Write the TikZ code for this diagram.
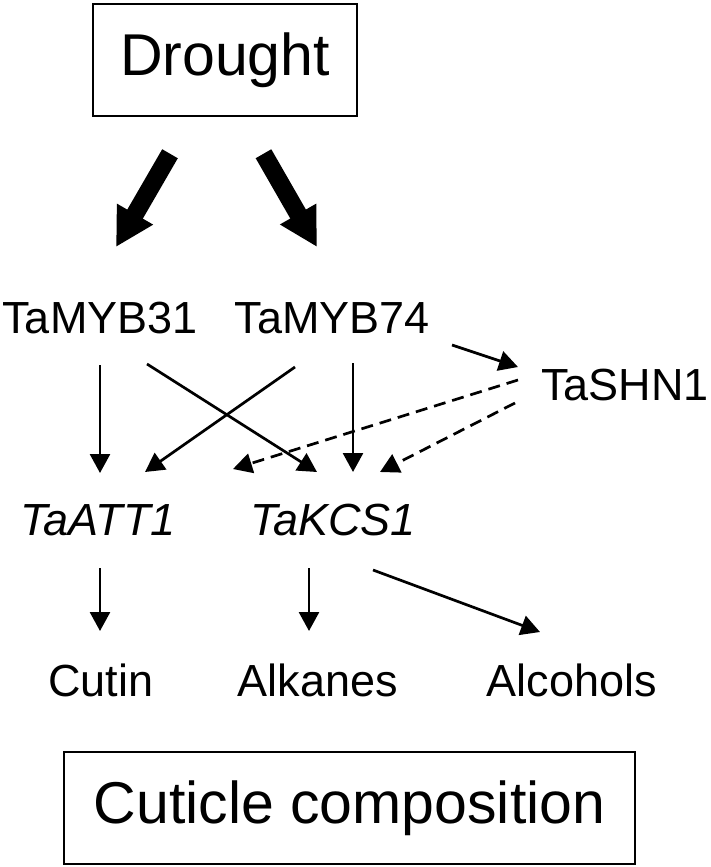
\documentclass[tikz,border=0pt]{standalone}
\usepackage{fontspec}
\setmainfont{Liberation Sans}
\usetikzlibrary{arrows.meta}
\tikzset{
  bigbox/.style={draw, line width=2.5pt, minimum width=264pt, minimum height=112pt, inner sep=0pt,
    font=\fontsize{59}{70}\selectfont},
  label/.style={anchor=base, inner sep=0pt, font=\fontsize{45}{54}\selectfont},
  gene/.style={label, font=\fontsize{45}{54}\selectfont\itshape},
  fat/.style={line width=18pt, -{Triangle[length=38pt,width=39pt]}},
  thin/.style={line width=2.7pt, -{Triangle[length=19pt,width=20pt]}},
  dsh/.style={thin, dash pattern=on 12pt off 7pt}
}
\begin{document}
\begin{tikzpicture}[x=1pt,y=-1pt]
\useasboundingbox (0,0) rectangle (710,867);
\node[bigbox] (drought) at (225,60) {Drought};
\node[bigbox, minimum width=571pt] (cuticle) at (349.5,808) {Cuticle composition};
\node[label] (m31) at (100,333) {TaMYB31};
\node[label] (m74) at (332,333) {TaMYB74};
\node[label] (shn) at (625,400) {TaSHN1};
\node[gene] (att) at (98,535) {TaATT1};
\node[gene] (kcs) at (333,535) {TaKCS1};
\node[label] (cutin) at (101,696) {Cutin};
\node[label] (alk) at (318,696) {Alkanes};
\node[label] (alc) at (572,696) {Alcohols};
% big arrows
\draw[fat] ([xshift=-55pt,yshift=-36.5pt]drought.south) -- ([xshift=16pt,yshift=86pt]m31.base);
\draw[fat] ([xshift=38.5pt,yshift=-36.5pt]drought.south) -- ([xshift=-15pt,yshift=86pt]m74.base);
% regulators to genes
\draw[thin] ([yshift=-32pt]m31.base) -- ([xshift=2pt,yshift=62pt]att.base);
\draw[thin] ([xshift=47pt,yshift=-31pt]m31.base) -- ([xshift=-16pt,yshift=63pt]kcs.base);
\draw[thin] ([xshift=-37pt,yshift=-34pt]m74.base) -- ([xshift=47pt,yshift=63pt]att.base);
\draw[thin] ([xshift=21pt,yshift=-30pt]m74.base) -- ([xshift=20pt,yshift=63pt]kcs.base);
\draw[thin] ([xshift=120pt,yshift=-12pt]m74.base) -- ([xshift=-107pt,yshift=33pt]shn.base);
\draw[dsh] ([xshift=-107pt,yshift=20pt]shn.base) -- ([xshift=135pt,yshift=66pt]att.base);
\draw[dsh] ([xshift=-110pt,yshift=-3pt]shn.base) -- ([xshift=47pt,yshift=63pt]kcs.base);
% genes to products
\draw[thin] ([xshift=2pt,yshift=-33pt]att.base) -- ([xshift=-1pt,yshift=65pt]cutin.base);
\draw[thin] ([xshift=-24pt,yshift=-33pt]kcs.base) -- ([xshift=-9pt,yshift=65pt]alk.base);
\draw[thin] ([xshift=40pt,yshift=-35pt]kcs.base) -- ([xshift=-32pt,yshift=64pt]alc.base);
\end{tikzpicture}
\end{document}
